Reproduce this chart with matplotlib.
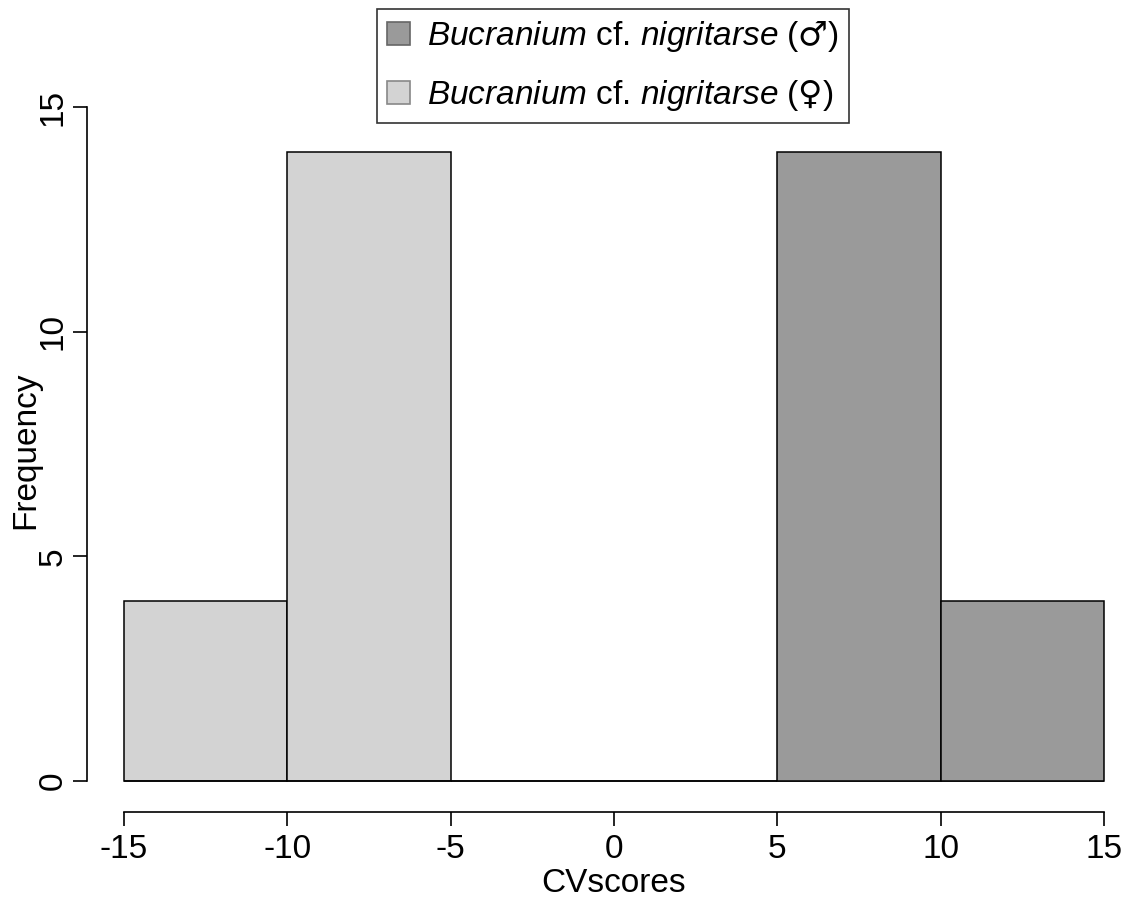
import matplotlib
matplotlib.use("Agg")
import matplotlib.pyplot as plt
from matplotlib.patches import Patch

plt.rcParams["font.family"] = ["Liberation Sans", "DejaVu Sans"]
plt.rcParams["mathtext.fontset"] = "custom"
plt.rcParams["mathtext.rm"] = "Liberation Sans"
plt.rcParams["mathtext.it"] = "Liberation Sans:italic"
plt.rcParams["mathtext.sf"] = "DejaVu Sans"

# Histogram bins and counts
bin_edges = [-15, -10, -5, 0, 5, 10, 15]
female_counts = [4, 14, 0, 0, 0, 0]
male_counts = [0, 0, 0, 0, 14, 4]
x_ticks = [-15, -10, -5, 0, 5, 10, 15]
y_ticks = [0, 5, 10, 15]

c_MALE_COLOR = "#9a9a9a"
c_FEMALE_COLOR = "#d3d3d3"
c_MALE_LABEL = r"$\it{Bucranium}$ cf. $\it{nigritarse}$ ($\mathsf{♂}$)"
c_FEMALE_LABEL = r"$\it{Bucranium}$ cf. $\it{nigritarse}$ ($\mathsf{♀}$)"

fig = plt.figure(figsize=(11.37, 9.08), dpi=100)
ax = fig.add_axes([124 / 1137, 127 / 908, 980 / 1137, 674 / 908])

lefts = bin_edges[:-1]
widths = [b - a for a, b in zip(bin_edges[:-1], bin_edges[1:])]
ax.bar(lefts, female_counts, width=widths, align="edge", color=c_FEMALE_COLOR,
       edgecolor="black", linewidth=1.1, clip_on=False)
ax.bar(lefts, male_counts, width=widths, align="edge", color=c_MALE_COLOR,
       edgecolor="black", linewidth=1.1, clip_on=False)

ax.set_xlim(-15, 15)
ax.set_ylim(0, 15)
ax.set_xticks(x_ticks)
ax.set_xticklabels([str(v) for v in x_ticks])
ax.set_yticks(y_ticks)
ax.set_yticklabels([str(v) for v in y_ticks])

for s in ["top", "right"]:
    ax.spines[s].set_visible(False)
ax.spines["left"].set_position(("outward", 27))
ax.spines["bottom"].set_position(("outward", 22))
for s in ["left", "bottom"]:
    ax.spines[s].set_linewidth(1.2)
ax.tick_params(axis="both", length=10, width=1.2, labelsize=24, pad=6)
ax.tick_params(axis="y", labelrotation=90, pad=3)
for lbl in ax.get_yticklabels():
    lbl.set_va("center")

ax.set_xlabel("CVscores", fontsize=24)
ax.set_ylabel("Frequency", fontsize=24)
ax.xaxis.set_label_coords(0.5, -0.129)
ax.yaxis.set_label_coords(-0.084, 0.49)

handles = [Patch(facecolor=c_MALE_COLOR, edgecolor="#666666", linewidth=1.2),
           Patch(facecolor=c_FEMALE_COLOR, edgecolor="#888888", linewidth=1.2)]
leg = fig.legend(handles, [c_MALE_LABEL, c_FEMALE_LABEL], loc="upper center",
                 bbox_to_anchor=(613 / 1137, 1 - 9 / 908), fontsize=24,
                 frameon=True, fancybox=False, edgecolor="black",
                 handlelength=0.7, handleheight=0.7, handletextpad=0.5,
                 labelspacing=0.72, borderpad=0.3, borderaxespad=0)
leg.get_frame().set_linewidth(1.2)

fig.savefig("out.png", dpi=100)
